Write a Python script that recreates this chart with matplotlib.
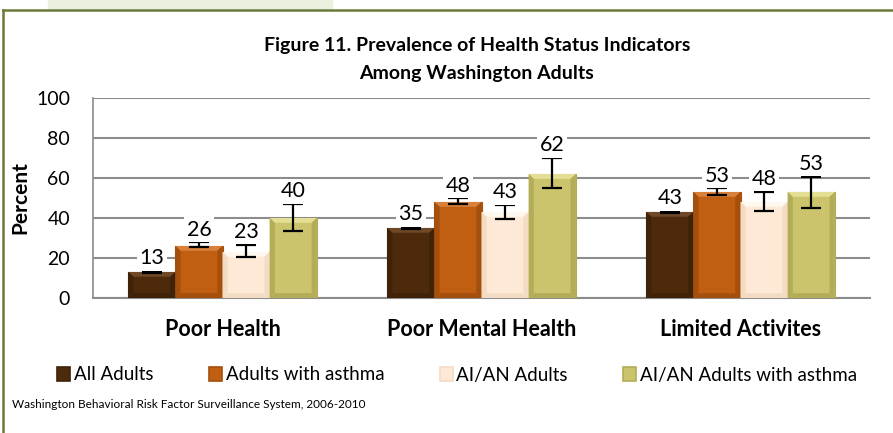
import numpy as np
import matplotlib.pyplot as plt
from matplotlib.patches import Polygon, Patch, Rectangle
from matplotlib.lines import Line2D

plt.rcParams['font.family'] = ['Lato', 'DejaVu Sans']

# Data
categories = ['Poor Health', 'Poor Mental Health', 'Limited Activites']
series = ['All Adults', 'Adults with asthma', 'AI/AN Adults', 'AI/AN Adults with asthma']
values = [
    [13, 35, 43],   # All Adults
    [26, 48, 53],   # Adults with asthma
    [23, 43, 48],   # AI/AN Adults
    [40, 62, 53],   # AI/AN Adults with asthma
]
err_low = [
    [12.5, 34.5, 42.5],
    [25.3, 47.0, 51.5],
    [20.3, 39.5, 43.7],
    [33.7, 54.8, 45.0],
]
err_high = [
    [13.5, 35.5, 43.5],
    [27.8, 49.8, 54.8],
    [26.7, 46.5, 53.2],
    [47.0, 70.0, 60.7],
]

# colours: main, light (top bevel), dark (side bevel)
colors = ['#4d2a0c', '#c05e12', '#fde9d5', '#cbc46c']
light = ['#6e4827', '#d9803a', '#fff8ef', '#e4df95']
dark = ['#3f2208', '#a54f0c', '#f3dcc3', '#b3ad58']

fig = plt.figure(figsize=(8.93, 4.33), dpi=100)
ax = fig.add_axes([93 / 893, 1 - 298 / 433, 777 / 893, 200 / 433])

x = np.arange(len(categories))
width = 0.182
offsets = (np.arange(len(series)) - 1.5) * width

for i, name in enumerate(series):
    bars = ax.bar(x + offsets[i], values[i], width, color=colors[i],
                  edgecolor=dark[i], linewidth=0.8, zorder=3, label=name)
    # soft bevel effect
    for b in bars:
        x0, y0, w, h = b.get_x(), b.get_y(), b.get_width(), b.get_height()
        bx, by = 0.02, 2.4
        top = Polygon([(x0, y0 + h), (x0 + w, y0 + h), (x0 + w - bx, y0 + h - by),
                       (x0 + bx, y0 + h - by)], closed=True, color=light[i],
                      lw=0, zorder=4)
        left = Polygon([(x0, y0), (x0, y0 + h), (x0 + bx, y0 + h - by),
                        (x0 + bx, y0 + by)], closed=True, color=dark[i], lw=0,
                       zorder=4)
        right = Polygon([(x0 + w, y0), (x0 + w, y0 + h), (x0 + w - bx, y0 + h - by),
                         (x0 + w - bx, y0 + by)], closed=True, color=dark[i],
                        lw=0, zorder=4)
        bottom = Polygon([(x0, y0), (x0 + w, y0), (x0 + w - bx, y0 + by),
                          (x0 + bx, y0 + by)], closed=True, color=dark[i], lw=0,
                         zorder=4)
        for p in (top, left, right, bottom):
            ax.add_patch(p)

    lo = np.array(values[i]) - np.array(err_low[i])
    hi = np.array(err_high[i]) - np.array(values[i])
    ax.errorbar(x + offsets[i], values[i], yerr=[lo, hi], fmt='none',
                ecolor='black', elinewidth=1.6, capsize=7.5, capthick=1.6,
                zorder=5)

    for xi, v, top_err in zip(x + offsets[i], values[i], err_high[i]):
        ax.annotate(str(v), (xi, top_err), xytext=(0, 2), textcoords='offset points',
                    ha='center', va='bottom', fontsize=15.5, zorder=6,
                    bbox=dict(boxstyle='square,pad=0.12', fc='white', ec='none'))

ax.set_xlim(-0.5, 2.5)
ax.set_ylim(0, 100)
ax.set_yticks(np.arange(0, 101, 20))
ax.tick_params(axis='y', length=0, labelsize=14, pad=16.5)
ax.tick_params(axis='x', length=0, labelsize=15.5, pad=15)
ax.set_xticks(x)
ax.set_xticklabels(categories, fontweight='bold')
ax.yaxis.grid(True, color='#8c8c8c', linewidth=1.5, zorder=0)
ax.set_axisbelow(True)
for s in ['top', 'right']:
    ax.spines[s].set_visible(False)
ax.spines['left'].set_color('#8c8c8c')
ax.spines['bottom'].set_color('#8c8c8c')
ax.spines['left'].set_linewidth(1.2)
ax.spines['bottom'].set_linewidth(1.5)
ax.set_ylabel('Percent', fontsize=15, fontweight='bold')
ax.yaxis.set_label_coords(-0.081, 0.5)

fig.text(0.534, 1 - 45 / 433, 'Figure 11. Prevalence of Health Status Indicators',
         ha='center', va='center', fontsize=14, fontweight='bold')
fig.text(0.534, 1 - 73 / 433, 'Among Washington Adults',
         ha='center', va='center', fontsize=14, fontweight='bold')

handles = [Patch(facecolor=colors[i], edgecolor=dark[i], linewidth=1.2) for i in range(4)]
fig.legend(handles, series, loc='center', bbox_to_anchor=(0.512, 1 - 375 / 433), ncol=4,
           frameon=False, fontsize=13.5, handlelength=0.7, handleheight=0.7,
           handletextpad=0.2, columnspacing=2.95)

fig.text(12 / 893, 1 - 405 / 433, 'Washington Behavioral Risk Factor Surveillance System, 2006-2010',
         ha='left', va='center', fontsize=8.5)

# frame decorations
fig.patches.append(Rectangle((48 / 893, 1 - 8 / 433), 284 / 893, 8 / 433,
                             transform=fig.transFigure, color='#ebf1de', zorder=0))
fig.lines.append(Line2D([3 / 893, 1], [1 - 10 / 433, 1 - 10 / 433], transform=fig.transFigure,
                        color='#6b7a3a', linewidth=1.8))
fig.lines.append(Line2D([3 / 893, 3 / 893], [0, 1 - 10 / 433], transform=fig.transFigure,
                        color='#6b7a3a', linewidth=1.8))

fig.savefig('out.png', dpi=100)
